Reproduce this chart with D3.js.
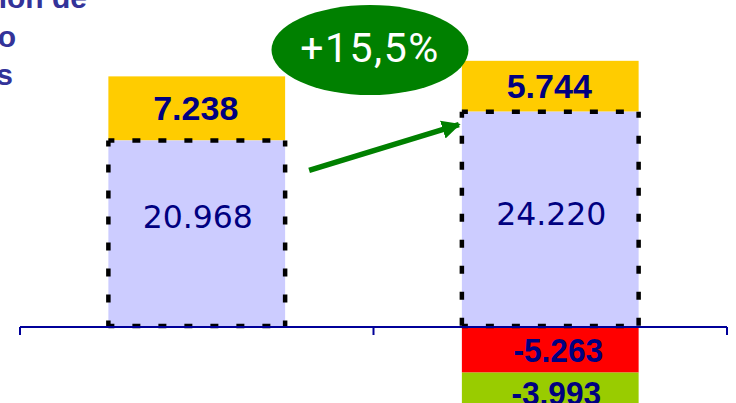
<!DOCTYPE html>
<html>
<head>
<meta charset="utf-8">
<script src="https://cdn.jsdelivr.net/npm/d3@7"></script>
<style>
  html, body { margin: 0; padding: 0; background: #fff; overflow: hidden; }
  svg { display: block; }
</style>
</head>
<body>
<svg id="chart" width="736" height="403"></svg>
<script>
// ---- data ----
const categories = ["Periodo 1", "Periodo 2"];
const baseValues = [20968, 24220];     // lavender, dashed border
const topValues = [7238, 5744];        // yellow, stacked on top
const negRed = [0, -5263];             // red, below axis
const negGreen = [0, -3993];           // green, below red
const titleLines = ["Evolución de", "empleo", "ocupados"];

const W = 736, H = 403;
const svg = d3.select("#chart");

const x = d3.scaleBand().domain(categories).range([20, 727]).paddingInner(0.5).paddingOuter(0.25);
const y = d3.scaleLinear().domain([0, 30000]).range([326, 326 - 265.5]);
const bw = x.bandwidth();

const navy = "#000080";
const fmt = v => (v < 0 ? "-" : "") + d3.format(",")(Math.abs(v)).replace(/,/g, ".");

// yellow stacked segments
svg.selectAll("rect.top").data(categories).enter().append("rect")
  .attr("x", d => x(d)).attr("width", bw)
  .attr("y", (d, i) => y(baseValues[i] + topValues[i]))
  .attr("height", (d, i) => y(baseValues[i]) - y(baseValues[i] + topValues[i]))
  .attr("fill", "#FFCC00");

// lavender base
svg.selectAll("rect.base").data(categories).enter().append("rect")
  .attr("x", d => x(d)).attr("width", bw)
  .attr("y", (d, i) => y(baseValues[i]))
  .attr("height", (d, i) => y(0) - y(baseValues[i]))
  .attr("fill", "#CCCCFF");

// negative red
svg.selectAll("rect.red").data(categories).enter().append("rect")
  .attr("x", d => x(d)).attr("width", bw)
  .attr("y", y(0))
  .attr("height", (d, i) => y(negRed[i]) - y(0))
  .attr("fill", "#FF0000");

// negative green
svg.selectAll("rect.green").data(categories).enter().append("rect")
  .attr("x", d => x(d)).attr("width", bw)
  .attr("y", (d, i) => y(negRed[i]))
  .attr("height", (d, i) => y(negRed[i] + negGreen[i]) - y(negRed[i]))
  .attr("fill", "#99CC00");

// dashed borders: each side drawn from its top/left corner so dashes sit on the corners
categories.forEach((c, i) => {
  const x0 = x(c), x1 = x(c) + bw, y0 = y(baseValues[i]), y1 = y(0);
  const sides = [[x0, y0, x1, y0], [x0, y1, x1, y1], [x0, y0, x0, y1], [x1, y0, x1, y1]];
  svg.selectAll(null).data(sides).enter().append("line")
    .attr("x1", d => d[0]).attr("y1", d => d[1]).attr("x2", d => d[2]).attr("y2", d => d[3])
    .attr("stroke", "#000").attr("stroke-width", 4.5)
    .attr("stroke-dasharray", "8,18").attr("stroke-dashoffset", 2);
});

// axis
const axisY = y(0) + 1;
const bounds = [x.range()[0], ...categories.slice(1).map(c => x(c) - x.step() * x.paddingInner() / 2), x.range()[1]];
svg.append("line").attr("x1", bounds[0]).attr("x2", bounds[bounds.length - 1])
  .attr("y1", axisY).attr("y2", axisY).attr("stroke", "#000099").attr("stroke-width", 2);
svg.selectAll("line.tick").data(bounds).enter().append("line")
  .attr("x1", d => d).attr("x2", d => d).attr("y1", axisY).attr("y2", axisY + 8)
  .attr("stroke", "#000099").attr("stroke-width", 2);

// labels
const fBold = "'Liberation Sans', Arial, sans-serif";
svg.selectAll("text.top").data(categories).enter().append("text")
  .attr("x", d => x(d) + bw / 2 - 1)
  .attr("y", (d, i) => (y(baseValues[i]) + y(baseValues[i] + topValues[i])) / 2 + 12)
  .attr("text-anchor", "middle").attr("font-family", fBold).attr("font-weight", "bold")
  .attr("font-size", 34).attr("fill", navy)
  .text((d, i) => fmt(topValues[i]));

svg.selectAll("text.base").data(categories).enter().append("text")
  .attr("x", d => x(d) + bw / 2 + 1)
  .attr("y", (d, i) => [228, 225][i])
  .attr("text-anchor", "middle").attr("font-family", "'DejaVu Sans', Verdana, sans-serif")
  .attr("font-size", 31.5).attr("fill", navy)
  .text((d, i) => fmt(baseValues[i]));

svg.selectAll("text.red").data(categories.filter((d, i) => negRed[i] !== 0)).enter().append("text")
  .attr("x", d => x(d) + bw / 2 + 8)
  .attr("y", d => { const i = categories.indexOf(d); return (y(0) + y(negRed[i])) / 2 + 13; })
  .attr("text-anchor", "middle").attr("font-family", fBold).attr("font-weight", "bold")
  .attr("font-size", 34).attr("fill", navy)
  .attr("transform", d => { const cx = x(d) + bw / 2 + 8; return `translate(${cx},0) scale(0.93,1) translate(${-cx},0)`; })
  .text(d => fmt(negRed[categories.indexOf(d)]));

svg.selectAll("text.green").data(categories.filter((d, i) => negGreen[i] !== 0)).enter().append("text")
  .attr("x", d => x(d) + bw / 2 + 6)
  .attr("y", d => { const i = categories.indexOf(d); return y(negRed[i]) + 32; })
  .attr("text-anchor", "middle").attr("font-family", fBold).attr("font-weight", "bold")
  .attr("font-size", 34).attr("fill", navy)
  .attr("transform", d => { const cx = x(d) + bw / 2 + 6; return `translate(${cx},0) scale(0.93,1) translate(${-cx},0)`; })
  .text(d => fmt(negGreen[categories.indexOf(d)]));

// arrow
const defs = svg.append("defs");
defs.append("marker").attr("id", "ah").attr("viewBox", "0 0 10 10")
  .attr("refX", 9).attr("refY", 5).attr("markerWidth", 3.4).attr("markerHeight", 3.4)
  .attr("orient", "auto").attr("markerUnits", "strokeWidth")
  .append("path").attr("d", "M0,0 L10,5 L0,10 Z").attr("fill", "#008000");
const ax1 = x(categories[0]) + bw + 24, ay1 = y(baseValues[0]) + 30;
const ax2 = x(categories[1]) - 3, ay2 = y(baseValues[1]) + 13;
svg.append("line").attr("x1", ax1).attr("y1", ay1).attr("x2", ax2).attr("y2", ay2)
  .attr("stroke", "#008000").attr("stroke-width", 5.5).attr("marker-end", "url(#ah)");

// growth ellipse
const growth = baseValues[1] / baseValues[0] - 1;
svg.append("ellipse").attr("cx", 370).attr("cy", 50).attr("rx", 98.5).attr("ry", 45).attr("fill", "#008000");
svg.append("text").attr("x", 370).attr("y", 62).attr("text-anchor", "middle")
  .attr("font-family", "Roboto, 'Liberation Sans', sans-serif").attr("font-size", 41)
  .attr("letter-spacing", 1.5).attr("fill", "#fff")
  .text("+" + d3.format(".1f")(growth * 100).replace(".", ",") + "%");

// title (cropped at left edge)
const titleEnds = [87, 16, 13];
const titleBase = [8, 47, 85];
svg.selectAll("text.title").data(titleLines).enter().append("text")
  .attr("x", (d, i) => titleEnds[i]).attr("y", (d, i) => titleBase[i])
  .attr("text-anchor", "end").attr("font-family", fBold).attr("font-weight", "bold")
  .attr("font-size", 30).attr("fill", "#333399").text(d => d);
</script>
</body>
</html>
